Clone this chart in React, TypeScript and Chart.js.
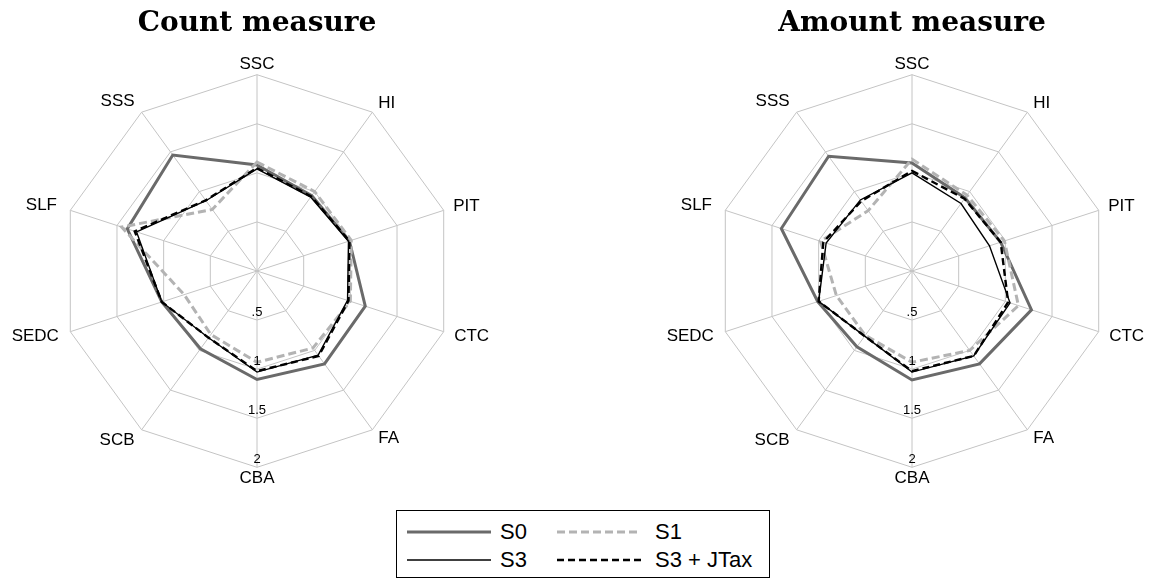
import React, { useEffect, useRef } from "react";
import { Chart, registerables } from "chart.js";

Chart.register(...registerables);

const axisLabels = ["SSC", "HI", "PIT", "CTC", "FA", "CBA", "SCB", "SEDC", "SLF", "SSS"];

const countS0 = [1.08, 0.95, 0.99, 1.16, 1.17, 1.105, 0.98, 1.02, 1.39, 1.46];
const countS1 = [1.11, 1.0, 1.01, 1.0, 0.97, 0.93, 0.8, 0.78, 1.45, 0.775];
const countS3 = [1.04, 0.93, 0.98, 0.97, 1.06, 1.03, 0.84, 1.02, 1.29, 0.885];
const countS3JTax = [1.05, 0.94, 0.99, 0.98, 1.07, 1.02, 0.84, 1.02, 1.31, 0.89];

const amountS0 = [1.1, 0.92, 0.95, 1.28, 1.17, 1.11, 0.955, 1.01, 1.4, 1.445];
const amountS1 = [1.14, 0.955, 0.99, 1.14, 1.0, 0.93, 0.81, 0.81, 0.98, 0.76];
const amountS3 = [1.0, 0.85, 0.83, 1.05, 1.07, 1.03, 0.82, 1.0, 0.92, 0.895];
const amountS3JTax = [1.02, 0.91, 0.95, 1.03, 1.07, 1.02, 0.82, 1.0, 0.95, 0.88];

const seriesNames = ["S0", "S1", "S3", "S3 + JTax"];
const tickValues = [0.5, 1, 1.5, 2];
const tickLabels = [".5", "1", "1.5", "2"];

const SANS = "'Liberation Sans', Arial, sans-serif";
const GRID = "#c4c4c4";
const styles = [
  { color: "#6a6a6a", width: 3, dash: [] as number[] },
  { color: "#b3b3b3", width: 3, dash: [8, 4] },
  { color: "#000000", width: 1.4, dash: [] as number[] },
  { color: "#000000", width: 2.4, dash: [7, 4] },
];
const labelPads = [10, 10, 10, 11, 10, 10, 12, 12, 14, 12];

const bottomTicks = {
  id: "bottomTicks",
  afterDatasetsDraw(chart: any) {
    const s = chart.scales.r;
    const ctx = chart.ctx;
    ctx.save();
    ctx.font = `13px ${SANS}`;
    ctx.fillStyle = "#000";
    ctx.textAlign = "center";
    ctx.textBaseline = "middle";
    tickValues.forEach((v, i) => {
      const d = s.getDistanceFromCenterForValue(v);
      ctx.fillText(tickLabels[i], s.xCenter, s.yCenter + d - 7.5);
    });
    ctx.restore();
  },
};

function RadarPanel({ title, series, left }: { title: string; series: number[][]; left: number }) {
  const ref = useRef<HTMLCanvasElement>(null);
  useEffect(() => {
    if (!ref.current) return;
    const order = [3, 2, 1, 0];
    const chart = new Chart(ref.current, {
      type: "radar",
      data: {
        labels: axisLabels,
        datasets: series.map((vals, i) => ({
          label: seriesNames[i],
          data: vals,
          borderColor: styles[i].color,
          borderWidth: styles[i].width,
          borderDash: styles[i].dash,
          fill: false,
          pointRadius: 0,
          pointHoverRadius: 0,
          tension: 0,
          order: order[i],
        })),
      },
      options: {
        animation: false,
        responsive: false,
        events: [],
        layout: { padding: { top: 0, left: 0, right: 0, bottom: 22 } },
        plugins: {
          legend: { display: false },
          tooltip: { enabled: false },
          title: {
            display: true,
            text: title,
            color: "#000",
            font: { family: "'DejaVu Serif', serif", size: 28, weight: "bold", lineHeight: 1.2 },
            padding: { top: 7, bottom: 22.4 },
          },
        },
        scales: {
          r: {
            min: 0,
            max: 2,
            ticks: { stepSize: 0.5, display: false },
            grid: { color: GRID, lineWidth: 1 },
            angleLines: { color: GRID, lineWidth: 1 },
            pointLabels: {
              color: "#000",
              font: { family: SANS, size: 17, lineHeight: 0.1 },
              padding: (ctx: any) => labelPads[ctx.index] ?? 10,
            },
          },
        },
      },
      plugins: [bottomTicks],
    } as any);
    return () => chart.destroy();
  }, [title, series]);
  return (
    <canvas
      ref={ref}
      width={520}
      height={501}
      style={{ position: "absolute", left, top: 0, width: 520, height: 501, display: "block" }}
    />
  );
}

function Sample({ x, y, st }: { x: number; y: number; st: { color: string; width: number; dash: number[] } }) {
  return (
    <svg width={84} height={8} style={{ position: "absolute", left: x, top: y - 4 }}>
      <line
        x1={0}
        y1={4}
        x2={84}
        y2={4}
        stroke={st.color}
        strokeWidth={st.width}
        strokeDasharray={st.dash.length ? st.dash.join(" ") : undefined}
      />
    </svg>
  );
}

function LegendText({ x, y, text }: { x: number; y: number; text: string }) {
  return (
    <div
      style={{
        position: "absolute",
        left: x,
        top: y - 12.7,
        fontFamily: SANS,
        fontSize: 22,
        lineHeight: "26px",
        color: "#000",
        whiteSpace: "nowrap",
      }}
    >
      {text}
    </div>
  );
}

export default function App() {
  const countSeries = [countS0, countS1, countS3, countS3JTax];
  const amountSeries = [amountS0, amountS1, amountS3, amountS3JTax];
  const row1 = 531.7;
  const row2 = 560;
  return (
    <div
      style={{
        position: "fixed",
        left: 0,
        top: 0,
        width: 1152,
        height: 581,
        overflow: "hidden",
        background: "#fff",
      }}
    >
      <RadarPanel title="Count measure" series={countSeries} left={-3} />
      <RadarPanel title="Amount measure" series={amountSeries} left={652} />
      <div
        style={{
          position: "absolute",
          left: 396,
          top: 510,
          width: 374,
          height: 68,
          border: "1px solid #000",
          boxSizing: "border-box",
        }}
      />
      <Sample x={406.7} y={row1} st={styles[0]} />
      <LegendText x={500} y={row1} text={seriesNames[0]} />
      <Sample x={556.7} y={row1} st={styles[1]} />
      <LegendText x={655} y={row1} text={seriesNames[1]} />
      <Sample x={406.7} y={row2} st={styles[2]} />
      <LegendText x={500} y={row2} text={seriesNames[2]} />
      <Sample x={556.7} y={row2} st={styles[3]} />
      <LegendText x={655} y={row2} text={seriesNames[3]} />
    </div>
  );
}
